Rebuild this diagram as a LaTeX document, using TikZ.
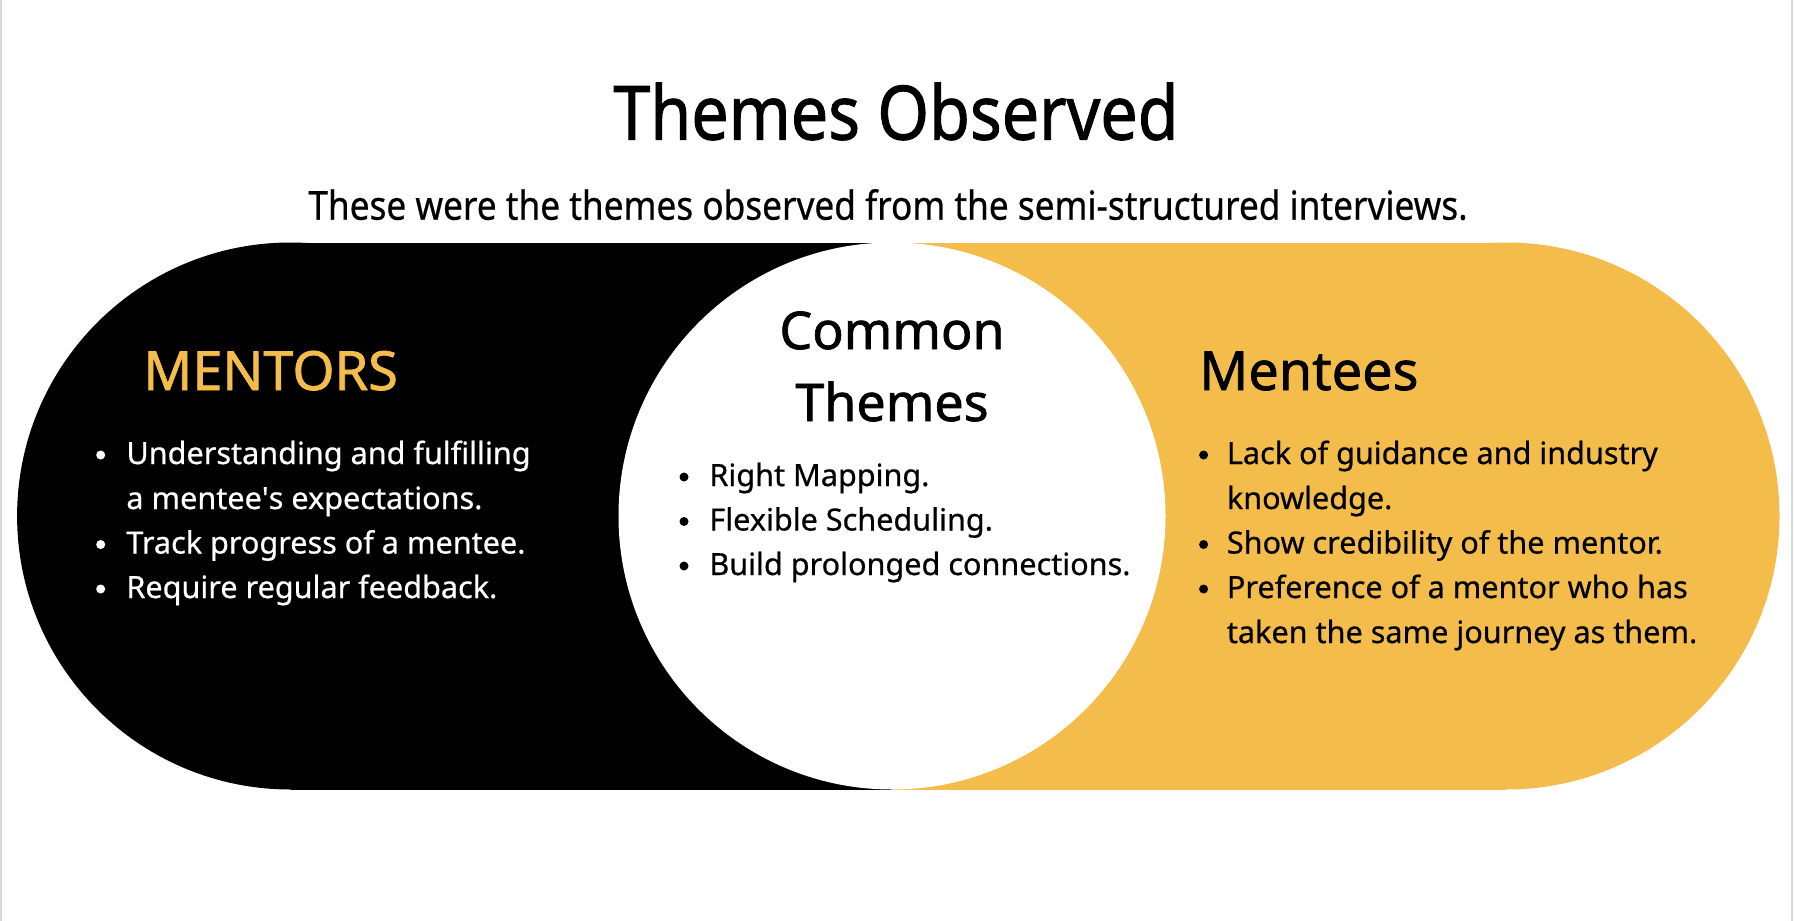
\documentclass[tikz,border=0pt]{standalone}
\usepackage{fontspec}
\setmainfont{Noto Sans}
\newfontfamily\medfont[FakeBold=1.3]{Noto Sans}
\newfontfamily\semifont[FakeBold=0.6]{Noto Sans}
\definecolor{gold}{HTML}{F3BC4B}
\definecolor{edgegray}{HTML}{D9D9D9}
\tikzset{
  itemtext/.style={anchor=base west, inner sep=0pt, font=\semifont\fontsize{15.3}{18}\selectfont},
  bulletdot/.style={circle, fill, inner sep=0pt, minimum size=4.5pt},
  heading/.style={anchor=base west, inner sep=0pt, font=\medfont\fontsize{27}{32}\selectfont},
}
\begin{document}
\begin{tikzpicture}[x=0.5pt,y=-0.5pt]
\useasboundingbox (0,0) rectangle (1794,921);
\fill[white] (0,0) rectangle (1794,921);
\draw[edgegray, line width=1pt] (1,0) -- (1,921);
\draw[edgegray, line width=1pt] (1792,0) -- (1792,921);
% pills
\fill[black] (290.6,516) circle[radius=273.5];
\fill[black] (290.6,242.5) rectangle (892,789.5);
\fill[gold] (1506,516) circle[radius=273.5];
\fill[gold] (892,242.5) rectangle (1506,789.5);
\fill[white] (892,516) circle[radius=273.5];
% titles
\node[anchor=base, inner sep=0pt, xscale=0.885, transform shape, font=\medfont\fontsize{37.5}{45}\selectfont] (title) at (896,139.6) {Themes Observed};
\node[anchor=base, inner sep=0pt, xscale=0.88, transform shape, font=\semifont\fontsize{20}{24}\selectfont] (sub) at (888,219.7) {These were the themes observed from the semi-structured interviews.};
% headings
\node[heading, text=gold] (mentors) at (143,390) {MENTORS};
\node[heading] (mentees) at (1199,390) {Mentees};
\node[anchor=base, inner sep=0pt, font=\medfont\fontsize{26}{31}\selectfont] (common1) at (892,349) {Common};
\node[anchor=base, inner sep=0pt, font=\medfont\fontsize{26}{31}\selectfont] (common2) at (892,421) {Themes};
% mentors items
\begin{scope}[text=white]
\node[itemtext] (m1) at (126,464) {Understanding and fulfilling};
\node[itemtext] (m1b) at (126,509) {a mentee\textquotesingle s expectations.};
\node[itemtext] (m2) at (126,553.5) {Track progress of a mentee.};
\node[itemtext] (m3) at (126,598) {Require regular feedback.};
\end{scope}
\node[bulletdot, white] (bm1) at (100.7,455) {};
\node[bulletdot, white] (bm2) at (100.7,544.5) {};
\node[bulletdot, white] (bm3) at (100.7,589) {};
% common items
\node[itemtext] (c1) at (709,486) {Right Mapping.};
\node[itemtext] (c2) at (709,530.5) {Flexible Scheduling.};
\node[itemtext] (c3) at (709,575) {Build prolonged connections.};
\node[bulletdot] (bc1) at (684,477) {};
\node[bulletdot] (bc2) at (684,521.5) {};
\node[bulletdot] (bc3) at (684,566) {};
% mentees items
\node[itemtext] (e1) at (1226.5,464) {Lack of guidance and industry};
\node[itemtext] (e1b) at (1226.5,509) {knowledge.};
\node[itemtext] (e2) at (1226.5,553.5) {Show credibility of the mentor.};
\node[itemtext] (e3) at (1226.5,598) {Preference of a mentor who has};
\node[itemtext] (e3b) at (1226.5,643) {taken the same journey as them.};
\node[bulletdot] (be1) at (1203.6,455) {};
\node[bulletdot] (be2) at (1203.6,544.5) {};
\node[bulletdot] (be3) at (1203.6,589) {};
\end{tikzpicture}
\end{document}
